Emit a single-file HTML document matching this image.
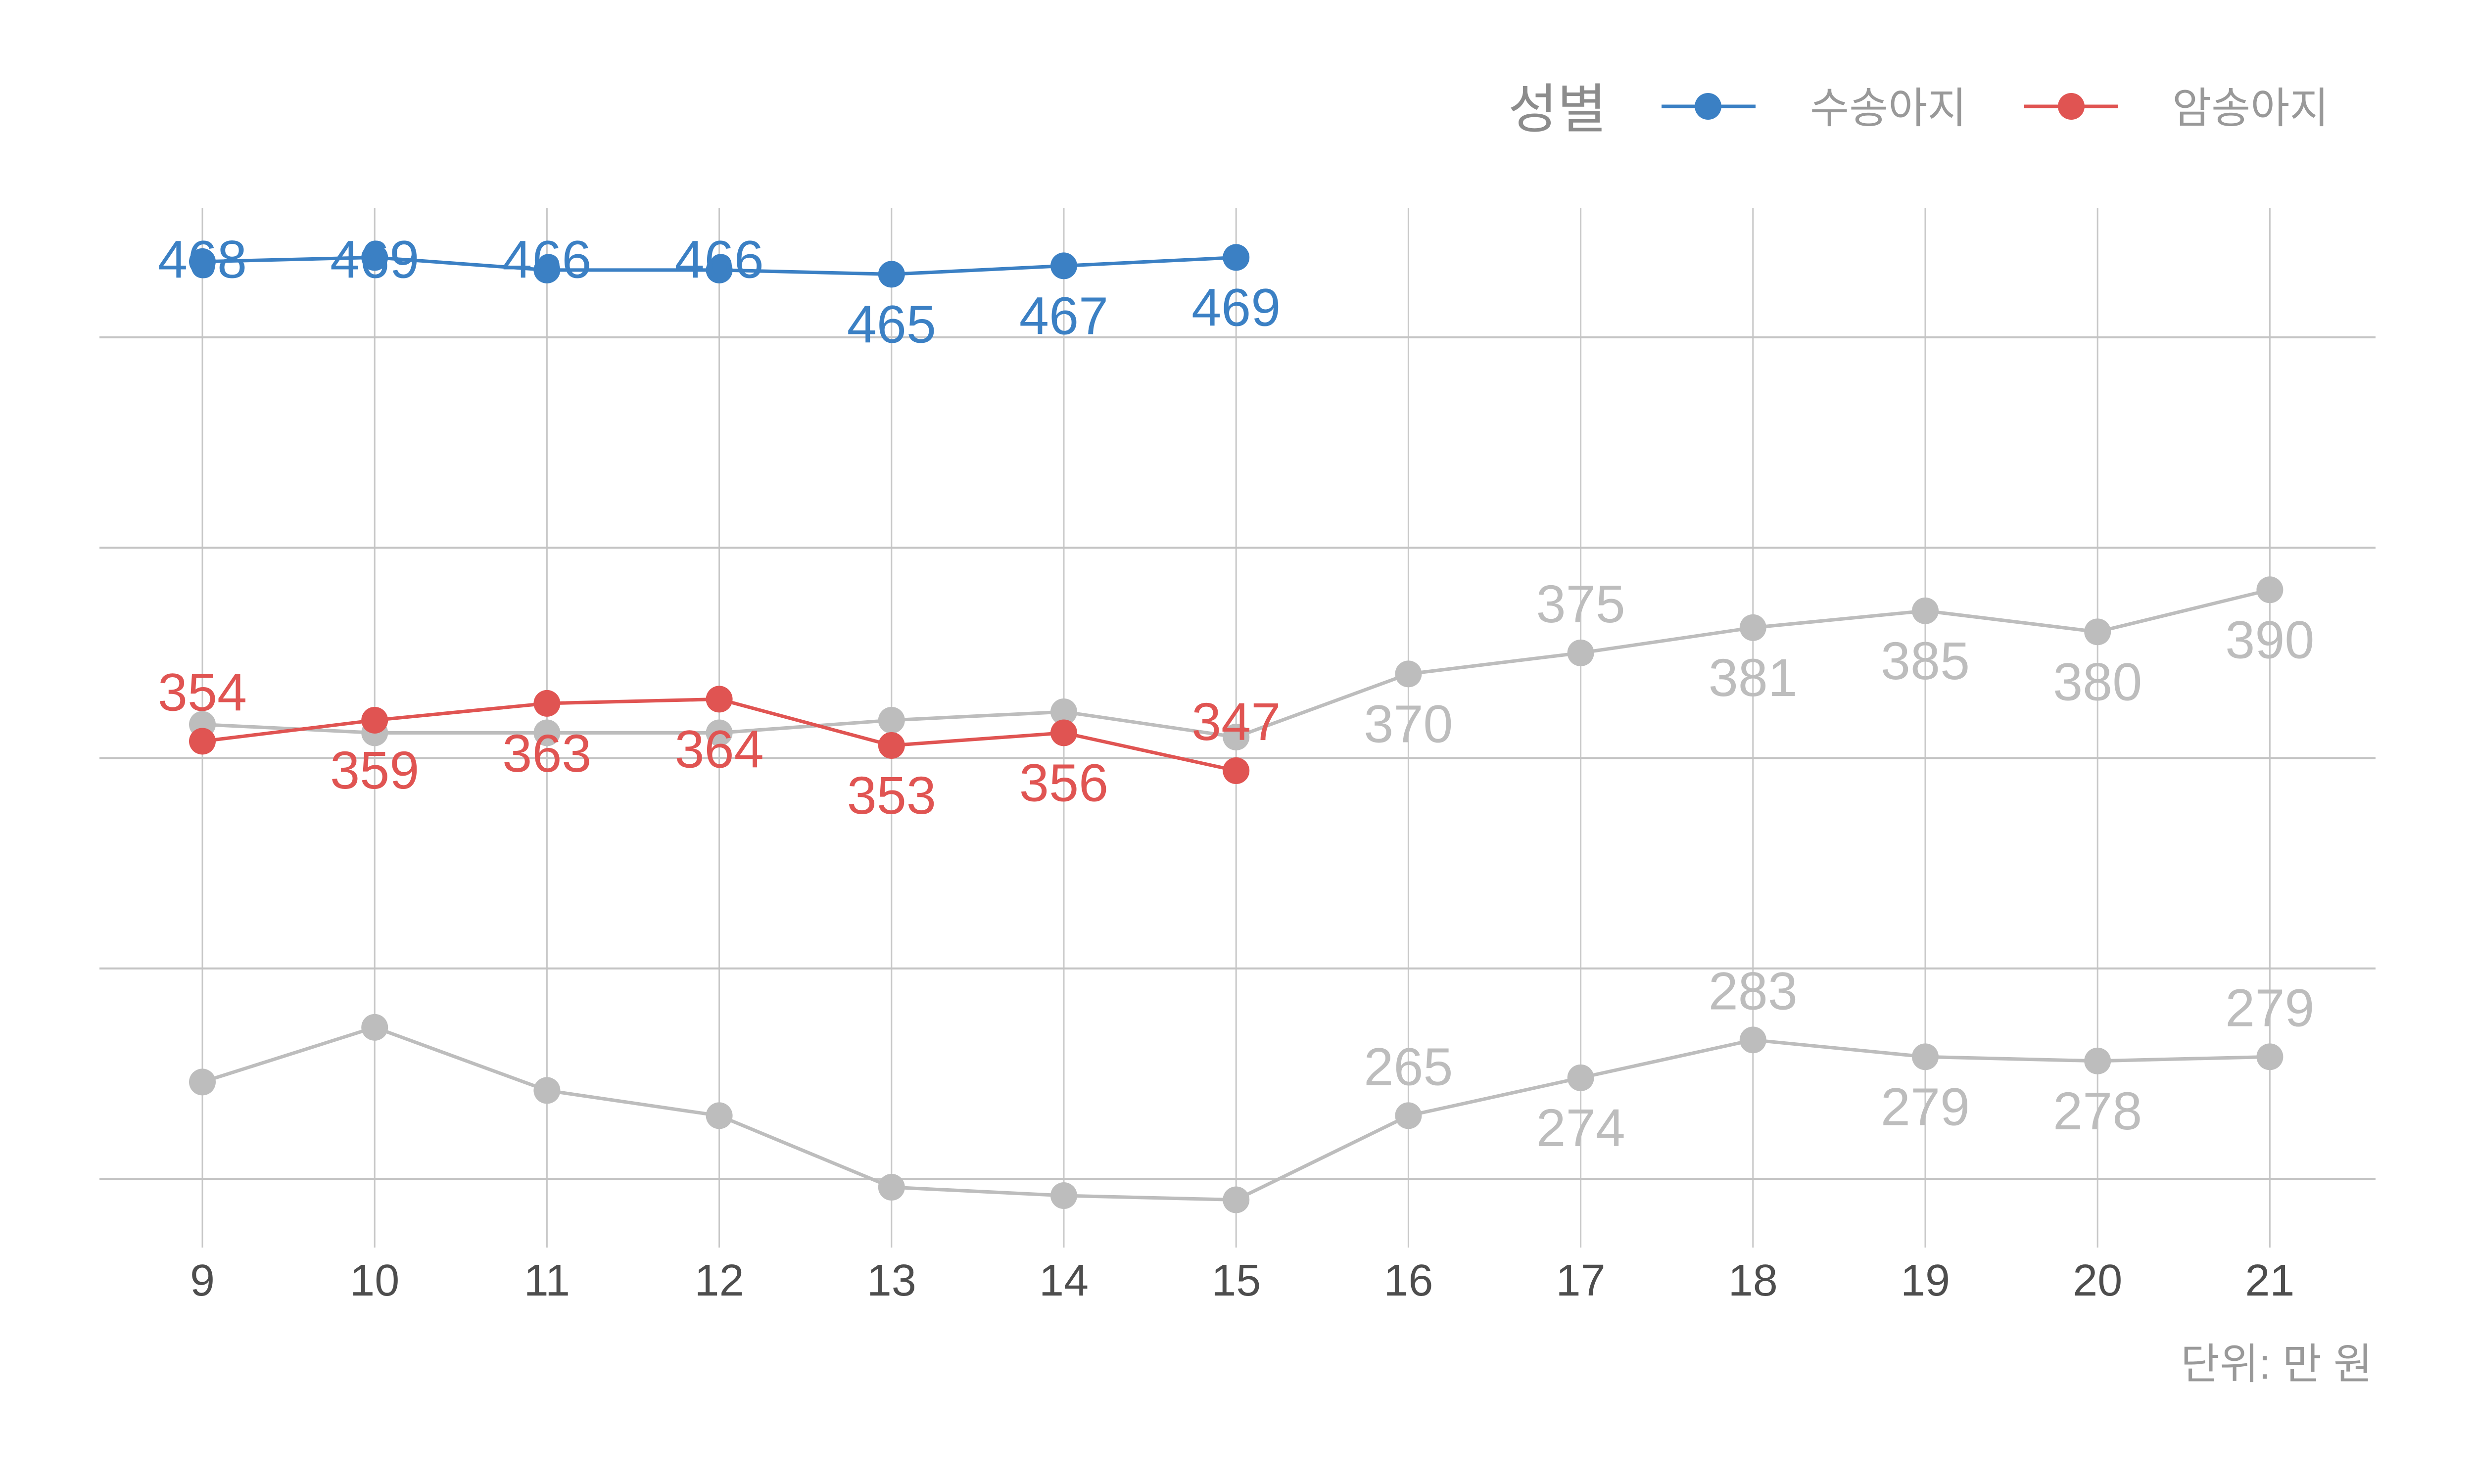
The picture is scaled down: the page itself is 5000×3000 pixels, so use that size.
<!DOCTYPE html>
<html><head><meta charset="utf-8">
<style>
html,body{margin:0;padding:0;background:#fff;width:5000px;height:3000px;overflow:hidden}
svg{display:block}
text{font-family:"Liberation Sans","Noto Sans CJK KR",sans-serif}
</style></head>
<body>
<svg id="chart" width="5000" height="3000" viewBox="0 0 5000 3000" xmlns="http://www.w3.org/2000/svg">
<g id="grid"></g>
<g id="series"></g>
<g id="xaxis"></g>
<g id="legend">
  <text x="3048" y="258" font-size="108" fill="#8c8c8c">성별</text>
  <line x1="3358" y1="215" x2="3548" y2="215" stroke="#3b80c4" stroke-width="7"/>
  <circle cx="3452" cy="215" r="27" fill="#3b80c4"/>
  <text x="3658" y="248" font-size="86" fill="#999">수송아지</text>
  <line x1="4091" y1="215" x2="4281" y2="215" stroke="#e05452" stroke-width="7"/>
  <circle cx="4186" cy="215" r="27" fill="#e05452"/>
  <text x="4390" y="248" font-size="86" fill="#999">암송아지</text>
</g>
<text x="4795" y="2787" font-size="86" fill="#999" text-anchor="end">단위: 만 원</text>
</svg>
<script>
const months = [9,10,11,12,13,14,15,16,17,18,19,20,21];
const yTicks = [250,300,350,400,450];
const maleValues = [468,469,466,466,465,467,469];
const maleSides = ['o','o','o','o','b','b','b'];
const femaleValues = [354,359,363,364,353,356,347];
const femaleSides = ['a','b','b','b','b','b','a'];
const grayUpperValues = [358,356,356,356,359,361,355,370,375,381,385,380,390];
const grayUpperSides = ['n','n','n','n','n','n','n','b','a','b','b','b','b'];
const grayLowerValues = [273,286,271,265,248,246,245,265,274,283,279,278,279];
const grayLowerSides = ['n','n','n','n','n','n','n','a','b','a','b','b','a'];

const NS='http://www.w3.org/2000/svg';
const L=201,R=4801,T=421,B=2522;
const x = m => 409 + (m-9)*348.2;
const y = v => 682 + (450-v)*8.505;
function mk(tag, attrs, parent){const e=document.createElementNS(NS,tag);for(const k in attrs)e.setAttribute(k,attrs[k]);parent.appendChild(e);return e;}

const grid=document.getElementById('grid');
months.forEach(m=>{
  const l=mk('line',{x1:x(m),x2:x(m),y1:T,y2:B,stroke:'#c8c8c8','stroke-width':3},grid);
  
  
});
yTicks.forEach(v=>{
  const l=mk('line',{x1:L,x2:R,y1:y(v),y2:y(v),stroke:'#c4c4c4','stroke-width':4},grid);
  
  
});
const xa=document.getElementById('xaxis');
months.forEach(m=>{
  const t=mk('text',{x:x(m),y:2619,'font-size':90,fill:'#4d4d4d','text-anchor':'middle'},xa);
  t.textContent=m;
  
  
});

const sg=document.getElementById('series');
function drawSeries(vals, sides, color, name){
  const g=mk('g',{},sg);
  
  
  const pts=vals.map((v,i)=>x(months[i])+','+y(v)).join(' ');
  const pl=mk('polyline',{points:pts,fill:'none',stroke:color,'stroke-width':7,'stroke-linejoin':'round'},g);
  
  
  vals.forEach((v,i)=>{
    const c=mk('circle',{cx:x(months[i]),cy:y(v),r:27,fill:color},g);
    
    
  });
  vals.forEach((v,i)=>{
    const s=sides[i];
    if(s==='n')return;
    let cy=y(v);
    if(s==='a')cy-=100; else if(s==='b')cy+=100; else cy=y(467)-14;
    const t=mk('text',{x:x(months[i]),y:cy+38,'font-size':108,fill:color,'text-anchor':'middle'},g);
    t.textContent=v;
    
    
  });
}
drawSeries(grayLowerValues,grayLowerSides,'#bdbdbd','gray-lower-series');
drawSeries(grayUpperValues,grayUpperSides,'#bdbdbd','gray-upper-series');
drawSeries(femaleValues,femaleSides,'#e05452','female-series');
drawSeries(maleValues,maleSides,'#3b80c4','male-series');
</script>
</body></html>
